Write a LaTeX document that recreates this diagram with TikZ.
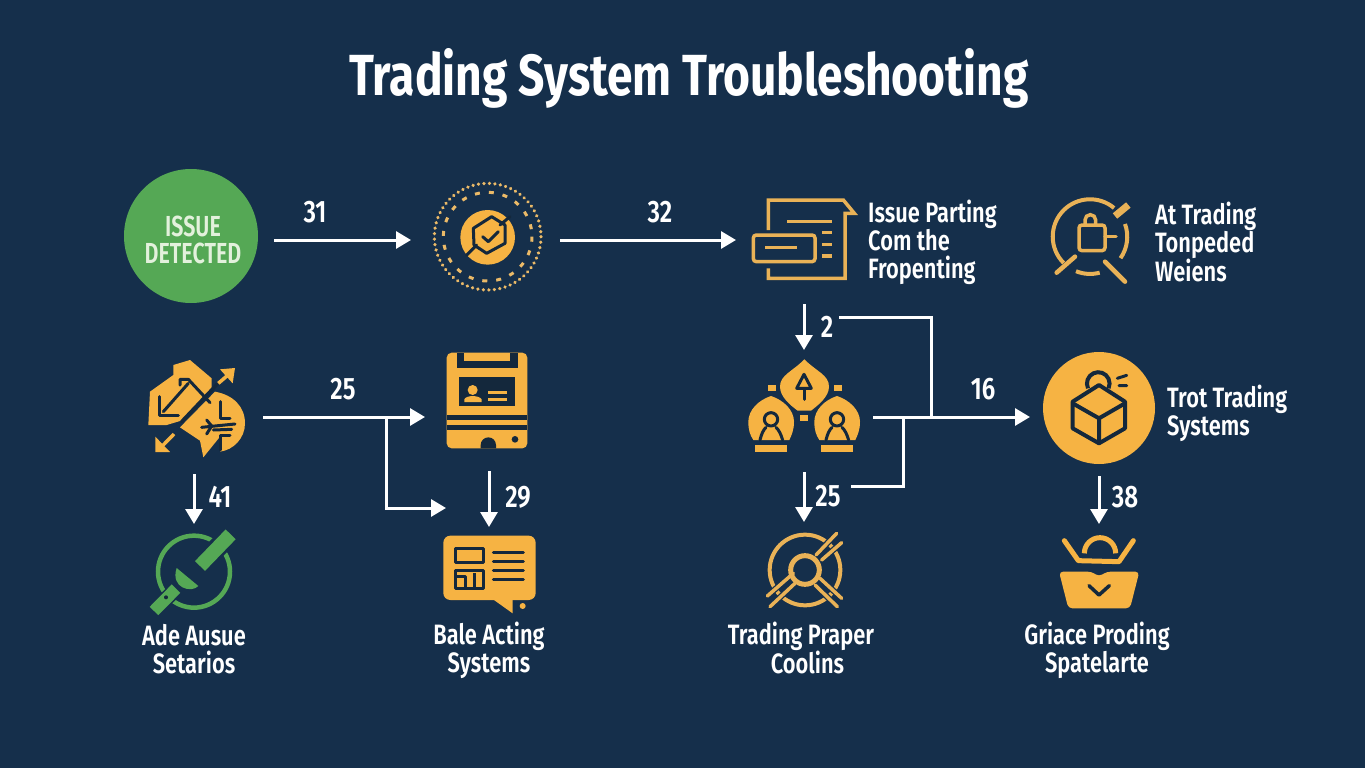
\documentclass[tikz,border=0pt]{standalone}
\usepackage{fontspec}
\usetikzlibrary{arrows.meta}
\newfontfamily\condm[FakeStretch=0.78]{Fira Sans SemiBold}
\newfontfamily\condi[FakeStretch=0.74]{Fira Sans SemiBold}
\newfontfamily\condb[FakeStretch=0.795]{Fira Sans Bold}
\definecolor{bgc}{HTML}{152F4B}
\definecolor{org}{HTML}{F6B343}
\definecolor{orgl}{HTML}{E9B257}
\definecolor{grn}{HTML}{55A855}
\definecolor{pale}{HTML}{E3F1DC}
\definecolor{dark}{HTML}{14283C}
\tikzset{
  conn/.style={draw=white,line width=3pt,line join=miter},
  arr/.style={conn,-{Triangle[length=15pt,width=17pt]}},
  num/.style={text=white,font=\condm\fontsize{31}{31}\selectfont,inner sep=0pt},
  lab/.style={text=white,font=\condm\fontsize{28}{28}\selectfont,inner sep=0pt,align=center},
  labl/.style={lab,align=left,anchor=west},
  ln/.style={draw=dark,line width=3pt,line cap=round,line join=round},
  ol/.style={draw=orgl,line width=3.5pt,line join=miter},
  z1/.style={shift={(110,160)},x=0.33333pt,y=-0.33333pt},
  z2/.style={shift={(740,180)},x=0.33333pt,y=-0.33333pt},
  z3/.style={shift={(130,340)},x=0.33333pt,y=-0.33333pt},
  z4/.style={shift={(730,340)},x=0.33333pt,y=-0.33333pt},
  z5/.style={shift={(1020,340)},x=0.33333pt,y=-0.33333pt},
}
\begin{document}
\begin{tikzpicture}[x=1pt,y=-1pt]
\fill[bgc] (0,0) rectangle (1365,768);
\useasboundingbox (0,0) rectangle (1365,768);

\node[text=white,inner sep=0pt,font=\condb\fontsize{58}{58}\selectfont] (title) at (689,78) {Trading System Troubleshooting};

%% Issue detected
\node[circle,fill=grn,minimum size=134pt,inner sep=0pt] (detected) at (191,236) {};
\node[inner sep=0pt,text=pale,align=center,font=\condi\fontsize{29}{27}\selectfont] (detectedtext) at (193,240) {ISSUE\\DETECTED};

%% Badge
\begin{scope}[z1]
\draw[draw=orgl!90!white,line width=3.5pt,line cap=round,dash pattern=on 0.1pt off 5.4pt] (1133,230) circle (160);
\draw[draw=orgl!90!white,line width=3pt,dash pattern=on 5pt off 9pt] (1133,230) circle (133);
\fill[org] (1133,232) circle (82);
\draw[ln] (1145,170)--(1185,195)--(1185,250)--(1130,280)--(1092,255)--(1090,205)--cycle;
\draw[ln] (1118,230)--(1135,245)--(1165,215);
\draw[ln] (1070,285)--(1100,255) (1170,195)--(1200,170);
\end{scope}
\node[inner sep=0pt,minimum size=110pt] (badge) at (488,236) {};

%% Document
\begin{scope}[z2]
\draw[ol] (85,150)--(85,60)--(310,60)--(343,100)--(315,100)--(315,295)--(85,295)--(85,265);
\draw[ol] (142,125)--(275,125);
\draw[ol,rounded corners=3pt] (40,165) rectangle (225,245);
\draw[ol] (75,203)--(172,203);
\draw[ol] (246,158)--(276,158) (246,193)--(276,193) (246,228)--(276,228);
\end{scope}
\node[inner sep=0pt,minimum width=104pt,minimum height=82pt] (doc) at (804,239) {};
\node[labl] (t3) at (868,242) {Issue Parting\\[0pt]Com the\\[0pt]Fropenting};

%% Lock ring
\begin{scope}[z2]
\draw[ol,line width=4pt] (971,249) arc (135:310:112);
\draw[ol,line width=4pt] (1155,132) arc (340:395:112);
\draw[ol,line width=4pt] (1079,278) arc (75:112:112);
\draw[draw=orgl,line width=7pt] (1125,108)--(1165,75);
\draw[ol,line width=4.5pt,line cap=round] (950,278)--(1005,230);
\draw[ol,line width=4.5pt,line cap=round] (1095,245)--(1155,305);
\draw[ol,rounded corners=3pt] (1017,135) rectangle (1095,212);
\draw[ol] (1035,135) -- (1035,120) arc (180:360:16) -- (1067,135);
\draw[ol,line cap=round] (1095,170)--(1128,170);
\end{scope}
\node[inner sep=0pt,minimum size=84pt] (lockring) at (1090,240) {};
\node[labl] (t4) at (1155,242) {At Trading\\[0pt]Tonpeded\\[0pt]Weiens};

%% Brain arrows
\begin{scope}[z3]
\fill[org] (55,255)--(60,155)--(130,105)--(130,75)--(180,60)--(245,115)--(245,150)--(160,240)--(110,255)--cycle;
\fill[org] (150,262)--(255,155) .. controls (310,165) and (345,200) .. (345,250) .. controls (345,295) and (310,330) .. (270,335) --(270,290)--(220,352)--(210,302)--cycle;
\draw[ln] (88,170)--(88,225)--(145,225);
\draw[ln] (100,215)--(175,130);
\draw[ln] (150,135)--(150,118)--(175,118)--(240,188);
\draw[ln,line width=3.5pt] (155,245)--(262,132);
\draw[ln] (270,185)--(270,235)--(300,235);
\draw[ln] (215,262)--(315,252) (250,270)--(305,268);
\draw[ln] (230,240)--(245,258)--(230,282);
\draw[ln] (300,285)--(272,285)--(272,330);
\draw[draw=org,line width=3.5pt] (265,130)--(300,100);
\fill[org] (270,88)--(315,84)--(308,130)--cycle;
\draw[draw=org,line width=3.5pt] (132,282)--(90,325);
\fill[org] (76,290)--(76,336)--(120,336)--cycle;
\end{scope}
\node[inner sep=0pt,minimum size=96pt] (brain) at (196,412) {};

%% Card device
\begin{scope}[z3]
\fill[org,rounded corners=5pt] (950,38) rectangle (1192,325);
\fill[dark] (982,38) -- (982,83) -- (1165,83) -- (1165,38) -- cycle;
\fill[org] (1002,38) rectangle (1140,62);
\fill[dark] (988,110) rectangle (1155,198);
\fill[org] (1028,150) circle (15);
\fill[org] (1003,186)--(1003,178) .. controls (1008,165) and (1048,165) .. (1055,178) -- (1055,186) -- cycle;
\draw[draw=org,line width=2.5pt] (1075,158)--(1132,158) (1075,178)--(1132,178);
\fill[dark] (950,224) rectangle (1192,240);
\fill[dark] (950,256) rectangle (1192,271);
\fill[dark] (1052,325) -- (1052,315) arc (180:360:23) -- (1098,325) -- cycle;
\fill[dark] (1155,298) circle (10);
\end{scope}
\node[inner sep=0pt,minimum width=80pt,minimum height=96pt] (card) at (487,400) {};

%% Green tool
\begin{scope}[z3]
\draw[draw=grn,line width=4.5pt] (192,695) circle (108);
\draw[draw=bgc,line width=20pt] (205,680)--(300,585);
\draw[draw=bgc,line width=15pt] (65,815)--(170,720);
\draw[draw=grn,line width=14pt,line join=round] (210,678)--(302,583);
\fill[grn] (140,684) -- (205,738) .. controls (185,760) and (120,745) .. (140,684) -- cycle;
\draw[draw=grn,line width=12pt] (72,813)--(138,746);
\fill[dark] (108,772) circle (6);
\end{scope}
\node[inner sep=0pt,minimum size=90pt] (tool) at (194,572) {};
\node[lab] (t5) at (194,649.5) {Ade Ausue\\[0pt]Setarios};

%% Chat
\begin{scope}[z3]
\fill[org,rounded corners=7pt] (940,587) rectangle (1217,780);
\fill[org] (1085,775)--(1148,820)--(1148,775)--cycle;
\fill[org] (1178,798) circle (9);
\draw[ln,line cap=butt] (975,625) rectangle (1060,668);
\draw[ln,line cap=butt] (975,690) rectangle (1060,745);
\draw[ln,line cap=butt] (1005,745)--(1005,708)--(975,708) (1032,745)--(1032,700);
\draw[ln] (1090,638)--(1180,638) (1090,665)--(1180,665) (1090,692)--(1180,692) (1090,719)--(1180,719);
\end{scope}
\node[inner sep=0pt,minimum width=94pt,minimum height=78pt] (chat) at (489,574) {};
\node[lab] (t6) at (489,650) {Bale Acting\\[0pt]Systems};

%% Group
\begin{scope}[z4]
\fill[org] (223,58) .. controls (260,95) and (297,105) .. (297,140) .. controls (297,170) and (265,195) .. (243,212) -- (203,212) .. controls (180,195) and (150,170) .. (150,140) .. controls (150,105) and (187,95) .. (223,58) -- cycle;
\draw[ln] (222,103) -- (244,145) -- (200,145) -- cycle;
\draw[ln] (222,150)--(222,178);
\foreach \dx in {0,198}{
  \begin{scope}[shift={(\dx,0)}]
  \fill[org] (123,168) .. controls (160,180) and (192,210) .. (192,245) .. controls (192,270) and (185,285) .. (178,300) -- (70,300) .. controls (60,285) and (55,270) .. (55,245) .. controls (55,210) and (86,180) .. (123,168) -- cycle;
  \draw[ln] (123,238) circle (20);
  \draw[ln] (90,300) .. controls (95,280) and (100,270) .. (108,262);
  \draw[ln] (158,300) .. controls (152,280) and (146,270) .. (138,262);
  \fill[org] (75,315) rectangle (172,337);
  \fill[org] (113,136) rectangle (137,154);
  \end{scope}
}
\fill[org] (211,226) rectangle (235,244);
\end{scope}
\node[inner sep=0pt,minimum width=116pt,minimum height=96pt] (group) at (804,406) {};

%% Target
\begin{scope}[z4]
\draw[draw=orgl,line width=4pt] (225,690) circle (106);
\foreach \a/\b/\c/\d in {258/645/320/580,275/660/335/608,112/768/190/700,120/800/195/730,270/715/335/775,255/735/322/800}{
  \draw[draw=bgc,line width=6pt] (\a,\b)--(\c,\d);
}
\foreach \a/\b/\c/\d in {258/645/320/580,275/660/335/608,112/768/190/700,120/800/195/730,270/715/335/775,255/735/322/800}{
  \draw[draw=orgl,line width=3.5pt,line cap=round] (\a,\b)--(\c,\d);
}
\draw[draw=orgl,line width=5pt] (225,690) circle (43);
\end{scope}
\node[inner sep=0pt,minimum size=84pt] (target) at (805,570) {};
\node[lab] (t7) at (801,648) {Trading Praper\\[0pt]\hspace*{13pt}Coolins};

%% Cube
\node[circle,fill=org,minimum size=112pt,inner sep=0pt] (cube) at (1099,408) {};
\begin{scope}[z5]
\draw[draw=dark,line width=4pt] (204,145) arc (155:385:34);
\fill[org] (237,135)--(315,185)--(315,265)--(237,310)--(158,265)--(158,185)--cycle;
\draw[draw=dark,line width=4pt,line join=round] (237,135)--(315,185)--(315,265)--(237,310)--(158,265)--(158,185)--cycle;
\draw[draw=dark,line width=4pt,line join=round] (158,190)--(237,235)--(315,190) (237,235)--(237,310);
\draw[ln] (292,115)--(320,106) (297,137)--(320,137);
\end{scope}
\node[labl] (t8) at (1167,413) {Trot Trading\\[0pt]Systems};

%% Basket
\begin{scope}[z5]
\draw[draw=org,line width=5pt,line join=round,line cap=round] (133,602)--(175,662)--(297,665)--(340,602);
\draw[draw=org,line width=5pt] (193,640) arc (180:360:47);
\fill[org,rounded corners=4pt] (117,695)--(215,695)--(237,710)--(260,695)--(358,695)--(330,805)--(145,805)--cycle;
\draw[ln,line width=3.5pt] (207,737)--(237,765)--(268,737);
\end{scope}
\node[inner sep=0pt,minimum width=82pt,minimum height=76pt] (basket) at (1099,574) {};
\node[lab] (t9) at (1097,650) {Griace Proding\\[0pt]Spatelarte};

%% Connector ports
\coordinate (p1a) at (274,240); \coordinate (p1b) at (411,240);
\coordinate (p2a) at (560,240); \coordinate (p2b) at (736,240);
\coordinate (p3a) at (263,417); \coordinate (p3b) at (425,417);
\coordinate (p3c) at (386,417); \coordinate (p3d) at (386,508); \coordinate (p3e) at (446,508);
\coordinate (p4a) at (194,474); \coordinate (p4b) at (194,524);
\coordinate (p5a) at (489,471); \coordinate (p5b) at (489,527);
\coordinate (p6a) at (804,304); \coordinate (p6b) at (804,350);
\coordinate (p7a) at (873,417); \coordinate (p7b) at (1030,417);
\coordinate (p8a) at (839,317); \coordinate (p8b) at (931,317); \coordinate (p8c) at (931,417);
\coordinate (p9a) at (851,486); \coordinate (p9b) at (903,486); \coordinate (p9c) at (903,417);
\coordinate (p10a) at (804,472); \coordinate (p10b) at (804,522);
\coordinate (p11a) at (1099,476); \coordinate (p11b) at (1099,524);

\draw[arr] (p1a)--(p1b);
\draw[arr] (p2a)--(p2b);
\draw[arr] (p3a)--(p3b);
\draw[arr] (p3c)--(p3d)--(p3e);
\draw[arr] (p4a)--(p4b);
\draw[arr] (p5a)--(p5b);
\draw[arr] (p6a)--(p6b);
\draw[arr] (p7a)--(p7b);
\draw[conn] (p8a)--(p8b)--(p8c);
\draw[conn] (p9a)--(p9b)--(p9c);
\draw[arr] (p10a)--(p10b);
\draw[arr] (p11a)--(p11b);

\node[num] (n31) at (315,212) {31};
\node[num] (n32) at (660,212) {32};
\node[num] (n25a) at (343,389) {25};
\node[num] (n41) at (220,497) {41};
\node[num] (n29) at (518,497) {29};
\node[num] (n2) at (827,327) {2};
\node[num] (n16) at (983,389) {16};
\node[num] (n25b) at (828,496) {25};
\node[num] (n38) at (1125,497) {38};
\end{tikzpicture}
\end{document}
